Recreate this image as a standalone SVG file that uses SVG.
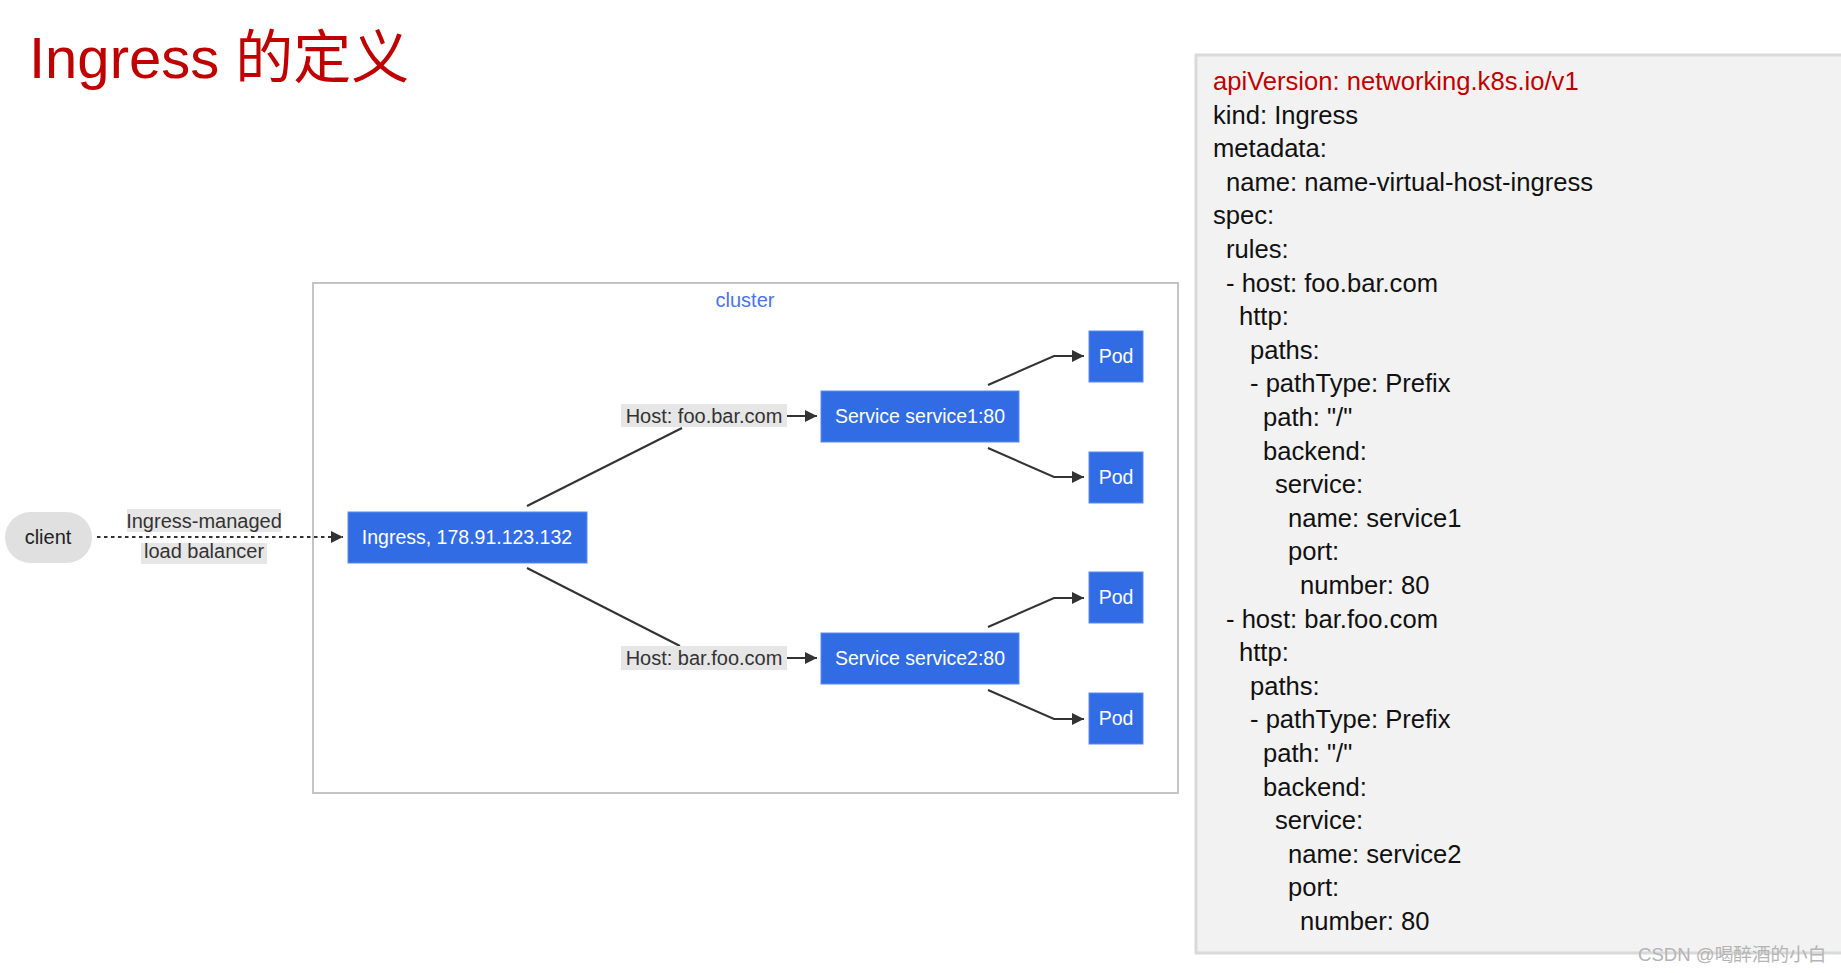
<svg xmlns="http://www.w3.org/2000/svg" width="1841" height="973" viewBox="0 0 1841 973">
<style>
.lbl{font-family:"Liberation Sans",Arial,sans-serif;font-size:20px;fill:#333;text-anchor:middle}
.wt{font-family:"Liberation Sans",Arial,sans-serif;font-size:19.5px;fill:#fff;text-anchor:middle}
.box{fill:#326ce5;stroke:#5a8af0;stroke-width:1}
.lblbg{fill:#e6e6e6}
.edge{fill:none;stroke:#333;stroke-width:2}
.code{font-family:"Liberation Sans",Arial,sans-serif;font-size:25.6px;fill:#111}
</style>
<defs>
<marker id="ah" viewBox="0 0 10 10" refX="10" refY="5" markerWidth="12" markerHeight="12" markerUnits="userSpaceOnUse" orient="auto">
<path d="M0,0 L10,5 L0,10 z" fill="#333"/>
</marker>
</defs>
<rect width="1841" height="973" fill="#fff"/>
<text id="title" x="29" y="78" font-family="'Liberation Sans','Noto Sans CJK SC',sans-serif" font-size="58" fill="#c00000">Ingress 的定义</text>

<g id="code-panel">
<rect x="1196" y="55" width="660" height="898" fill="#f2f2f2" stroke="#d9d9d9" stroke-width="3"/>
<text class="code" x="1213" y="90" style="fill:#c00000">apiVersion: networking.k8s.io/v1</text>
<text class="code" x="1213" y="123.6">kind: Ingress</text>
<text class="code" x="1213" y="157.2">metadata:</text>
<text class="code" x="1226" y="190.8">name: name-virtual-host-ingress</text>
<text class="code" x="1213" y="224.4">spec:</text>
<text class="code" x="1226" y="258">rules:</text>
<text class="code" x="1226" y="291.6">- host: foo.bar.com</text>
<text class="code" x="1239" y="325.2">http:</text>
<text class="code" x="1250" y="358.8">paths:</text>
<text class="code" x="1250" y="392.4">- pathType: Prefix</text>
<text class="code" x="1263" y="426">path: "/"</text>
<text class="code" x="1263" y="459.6">backend:</text>
<text class="code" x="1275" y="493.2">service:</text>
<text class="code" x="1288" y="526.8">name: service1</text>
<text class="code" x="1288" y="560.4">port:</text>
<text class="code" x="1300" y="594">number: 80</text>
<text class="code" x="1226" y="627.6">- host: bar.foo.com</text>
<text class="code" x="1239" y="661.2">http:</text>
<text class="code" x="1250" y="694.8">paths:</text>
<text class="code" x="1250" y="728.4">- pathType: Prefix</text>
<text class="code" x="1263" y="762">path: "/"</text>
<text class="code" x="1263" y="795.6">backend:</text>
<text class="code" x="1275" y="829.2">service:</text>
<text class="code" x="1288" y="862.8">name: service2</text>
<text class="code" x="1288" y="896.4">port:</text>
<text class="code" x="1300" y="930">number: 80</text>
</g>

<g id="cluster">
<rect x="313" y="283" width="865" height="510" fill="#fff" stroke="#c4c4c4" stroke-width="2"/>
<text x="745" y="307" font-family="'Liberation Sans',Arial,sans-serif" font-size="20" fill="#4a74e8" text-anchor="middle">cluster</text>
</g>

<g id="connectors">
<line class="edge" x1="97" y1="537" x2="343" y2="537" stroke-width="3.2" stroke-dasharray="3.5 3.5" marker-end="url(#ah)"/>
<rect class="lblbg" x="127" y="509" width="154" height="23"/>
<text class="lbl" x="204" y="528">Ingress-managed</text>
<rect class="lblbg" x="141" y="543" width="126" height="21"/>
<text class="lbl" x="204" y="558">load balancer</text>
<line class="edge" x1="527" y1="506" x2="682" y2="428"/>
<line class="edge" x1="527" y1="568" x2="680" y2="646"/>
<rect class="lblbg" x="621" y="404" width="166" height="23"/>
<text class="lbl" x="704" y="423">Host: foo.bar.com</text>
<line class="edge" x1="787" y1="416" x2="817" y2="416" marker-end="url(#ah)"/>
<rect class="lblbg" x="621" y="646" width="166" height="24"/>
<text class="lbl" x="704" y="665">Host: bar.foo.com</text>
<line class="edge" x1="787" y1="658" x2="817" y2="658" marker-end="url(#ah)"/>
<path class="edge" d="M988,385 L1054,356 L1084,356" marker-end="url(#ah)"/>
<path class="edge" d="M988,448 L1054,477 L1084,477" marker-end="url(#ah)"/>
<path class="edge" d="M988,627 L1054,598 L1084,598" marker-end="url(#ah)"/>
<path class="edge" d="M988,690 L1054,719 L1084,719" marker-end="url(#ah)"/>
</g>

<g id="client">
<rect x="5" y="512" width="87" height="51" rx="25.5" fill="#e0e0e0"/>
<text class="lbl" x="48" y="544" style="fill:#222">client</text>
</g>
<g id="ingress">
<rect class="box" x="348" y="512" width="239" height="51"/>
<text class="wt" x="467" y="544">Ingress, 178.91.123.132</text>
</g>
<g id="service1">
<rect class="box" x="821" y="391" width="198" height="51"/>
<text class="wt" x="920" y="423">Service service1:80</text>
</g>
<g id="service2">
<rect class="box" x="821" y="633" width="198" height="51"/>
<text class="wt" x="920" y="665">Service service2:80</text>
</g>
<g id="pod1">
<rect class="box" x="1089" y="331" width="54" height="51"/>
<text class="wt" x="1116" y="363">Pod</text>
</g>
<g id="pod2">
<rect class="box" x="1089" y="452" width="54" height="51"/>
<text class="wt" x="1116" y="484">Pod</text>
</g>
<g id="pod3">
<rect class="box" x="1089" y="572" width="54" height="51"/>
<text class="wt" x="1116" y="604">Pod</text>
</g>
<g id="pod4">
<rect class="box" x="1089" y="693" width="54" height="51"/>
<text class="wt" x="1116" y="725">Pod</text>
</g>

<text id="watermark" x="1638" y="961" font-family="'Liberation Sans','Noto Sans CJK SC',sans-serif" font-size="18.6" fill="#b4b4b4">CSDN @喝醉酒的小白</text>
</svg>
